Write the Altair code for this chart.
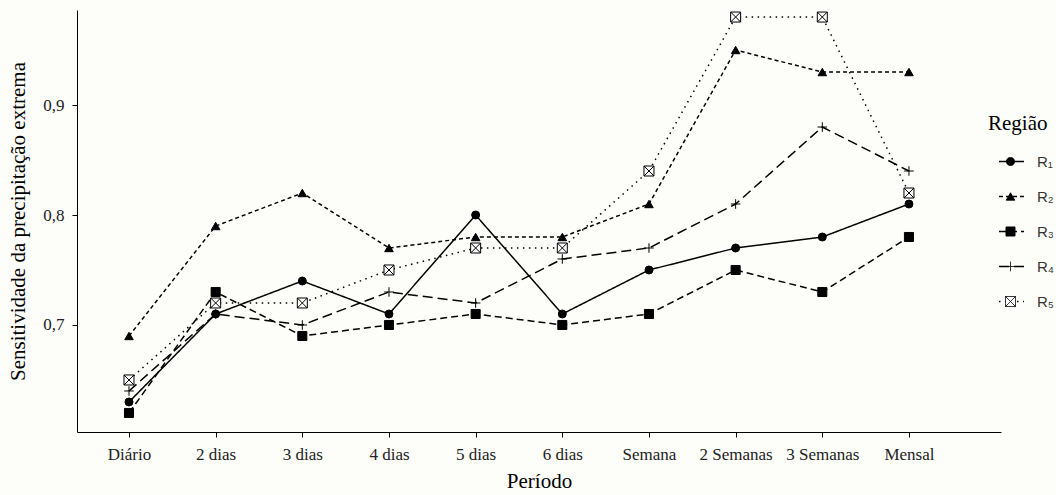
import altair as alt
import pandas as pd

# ---- data ----
periodos = ["Diário", "2 dias", "3 dias", "4 dias", "5 dias", "6 dias",
            "Semana", "2 Semanas", "3 Semanas", "Mensal"]
regioes = ["R₁", "R₂", "R₃", "R₄", "R₅"]
r1 = [0.63, 0.71, 0.74, 0.71, 0.80, 0.71, 0.75, 0.77, 0.78, 0.81]
r2 = [0.69, 0.79, 0.82, 0.77, 0.78, 0.78, 0.81, 0.95, 0.93, 0.93]
r3 = [0.62, 0.73, 0.69, 0.70, 0.71, 0.70, 0.71, 0.75, 0.73, 0.78]
r4 = [0.64, 0.71, 0.70, 0.73, 0.72, 0.76, 0.77, 0.81, 0.88, 0.84]
r5 = [0.65, 0.72, 0.72, 0.75, 0.77, 0.77, 0.84, 0.98, 0.98, 0.82]
y_ticks = [0.7, 0.8, 0.9]

# ---- styles ----
dashes = [[1, 0], [4, 3], [7, 4], [10, 5], [1.5, 4.5]]
shapes = ["circle", "triangle-up", "square", "M-1,0H1M0,-1V1",
          "M-1,-1H1V1H-1Z M-1,-1L1,1 M-1,1L1,-1"]
fills = ["black", "black", "black", "black", "white"]
sizes = [64, 100, 72, 196, 100]

# marker legend keys (kept distinct so the two legends are not merged)
regioes_m = [r + " " for r in regioes]

rows = []
for reg, reg_m, vals in zip(regioes, regioes_m, [r1, r2, r3, r4, r5]):
    for p, v in zip(periodos, vals):
        rows.append({"Período": p, "Região": reg, "Marcador": reg_m, "valor": v})
df = pd.DataFrame(rows)

SERIF = "Liberation Serif"
SANS = "Liberation Sans"

x_enc = alt.X(
    "Período:N", sort=periodos,
    scale=alt.Scale(type="point", padding=0.831, align=0.361),
    axis=alt.Axis(title="Período", labelAngle=0, labelPadding=9, titlePadding=8),
)
y_enc = alt.Y(
    "valor:Q",
    scale=alt.Scale(domain=[0.6027, 0.9864], nice=False, zero=False),
    axis=alt.Axis(title="Sensitividade da precipitação extrema", values=y_ticks,
                  labelExpr="replace(format(datum.value, '.1f'), '.', ',')",
                  labelPadding=8, titlePadding=14),
)

lines = alt.Chart(df).mark_line(stroke="black", strokeWidth=1.5).encode(
    x=x_enc, y=y_enc,
    strokeDash=alt.StrokeDash(
        "Região:N",
        scale=alt.Scale(domain=regioes, range=dashes),
        legend=alt.Legend(
            title="Região", orient="none", legendX=911, legendY=103,
            symbolType="stroke", symbolSize=625, symbolStrokeWidth=1.5,
            symbolStrokeColor="black", symbolOffset=10,
            labelFont=SANS, labelFontSize=15, labelColor="#333333", labelOffset=12,
            titleFont=SERIF, titleFontSize=21, titleFontWeight="normal",
            titleColor="black", titlePadding=14,
            rowPadding=13,
        ),
    ),
)

points = alt.Chart(df).mark_point(stroke="black", strokeWidth=1, opacity=1, fillOpacity=1).encode(
    x=x_enc, y=y_enc,
    shape=alt.Shape(
        "Marcador:N",
        scale=alt.Scale(domain=regioes_m, range=shapes),
        legend=alt.Legend(
            title=None, orient="none", legendX=926, legendY=144,
            labelOpacity=0, labelFontSize=15, rowPadding=19,
            symbolStrokeColor="black", symbolStrokeWidth=1, symbolDash=[1, 0],
        ),
    ),
    fill=alt.Fill("Marcador:N", scale=alt.Scale(domain=regioes_m, range=fills)),
    size=alt.Size("Marcador:N", scale=alt.Scale(domain=regioes_m, range=sizes)),
)

chart = (
    alt.layer(lines, points)
    .properties(width=924, height=422, autosize=alt.AutoSizeParams(type="none"),
                padding={"left": 77, "top": 10, "right": 55, "bottom": 63},
                background="#fdfdfa")
    .configure_view(stroke=None)
    .configure_axis(
        grid=False, domainColor="black", domainWidth=1, tickColor="black",
        tickSize=5, tickWidth=1,
        labelFont=SERIF, labelFontSize=17, labelColor="#222222",
        titleFont=SERIF, titleFontSize=21, titleFontWeight="normal", titleColor="black",
    )
)

chart.save("out.html", embed_options={"renderer": "svg", "actions": False})
